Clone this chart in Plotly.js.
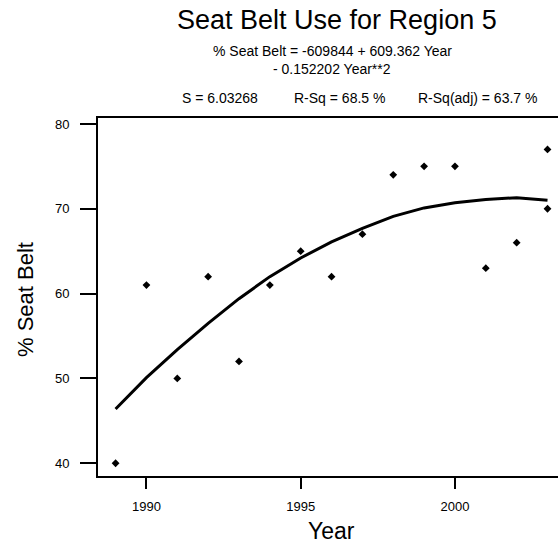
<!DOCTYPE html>
<html>
<head>
<meta charset="utf-8">
<script src="https://cdn.plot.ly/plotly-3.0.1.min.js"></script>
<style>html,body{margin:0;padding:0;overflow:hidden;background:#fff}</style>
</head>
<body>
<div id="chart" style="width:558px;height:544px"></div>
<script>
// Observed points
const obsYears = [1989, 1990, 1991, 1992, 1993, 1994, 1995, 1996, 1997, 1998, 1999, 2000, 2001, 2002, 2003, 2003];
const obsBelt  = [40, 61, 50, 62, 52, 61, 65, 62, 67, 74, 75, 75, 63, 66, 77, 70];
// Fitted curve
const fitYears = [1989, 1990, 1991, 1992, 1993, 1994, 1995, 1996, 1997, 1998, 1999, 2000, 2001, 2002, 2003];
const fitBelt  = [46.4, 50.1, 53.4, 56.5, 59.4, 62.0, 64.2, 66.1, 67.7, 69.1, 70.1, 70.7, 71.1, 71.3, 71.0];
// Ticks
const xTicks = [1990, 1995, 2000];
const yTicks = [40, 50, 60, 70, 80];

const FONT = "Liberation Sans, Arial, sans-serif";
const L = 98, R = 558, T = 118, B = 476, W = 558, H = 544;
function px(x){ return (x - L) / (R - L); }
function py(y){ return (B - y) / (B - T); }

const traces = [
  {x: fitYears, y: fitBelt, type: 'scatter', mode: 'lines',
   line: {color: '#000', width: 3}, hoverinfo: 'skip'},
  {x: obsYears, y: obsBelt, type: 'scatter', mode: 'markers',
   marker: {symbol: 'diamond', size: 6, color: '#000'}}
];

function ann(text, x, y, size){
  return {text: text, xref: 'paper', yref: 'paper', x: px(x), y: py(y),
          xanchor: 'center', yanchor: 'middle', showarrow: false,
          font: {family: FONT, size: size, color: '#000'}};
}

const layout = {
  width: W, height: H,
  margin: {l: L, r: W - R, t: T, b: H - B, pad: 0},
  paper_bgcolor: '#fff', plot_bgcolor: '#fff',
  showlegend: false,
  font: {family: FONT, color: '#000'},
  xaxis: {
    range: [1988.43, 2003.34], tickvals: xTicks, ticktext: xTicks.map(String),
    showgrid: false, zeroline: false, showline: true, linecolor: '#000', linewidth: 2,
    mirror: true, ticks: 'outside', ticklen: 11, tickwidth: 2, tickcolor: '#000',
    tickfont: {family: FONT, size: 13, color: '#000'}, ticklabelstandoff: 6
  },
  yaxis: {
    range: [38.5, 80.7], tickvals: yTicks, ticktext: yTicks.map(String),
    showgrid: false, zeroline: false, showline: true, linecolor: '#000', linewidth: 2,
    ticks: 'outside', ticklen: 16, tickwidth: 2, tickcolor: '#000',
    tickfont: {family: FONT, size: 13, color: '#000'}, ticklabelstandoff: 8
  },
  annotations: [
    ann('Seat Belt Use for Region 5', 337, 20, 27),
    ann('% Seat Belt = -609844 + 609.362 Year', 332, 51, 14),
    ann('- 0.152202 Year**2', 332, 69, 14),
    ann('S = 6.03268', 219.5, 98, 14),
    ann('R-Sq = 68.5 %', 339, 98, 14),
    ann('R-Sq(adj) = 63.7 %', 477.5, 98, 14),
    ann('Year', 331, 531, 23),
    Object.assign(ann('% Seat Belt', 25, 300, 22), {textangle: -90})
  ]
};

Plotly.newPlot('chart', traces, layout, {staticPlot: true, displayModeBar: false});
</script>
</body>
</html>
